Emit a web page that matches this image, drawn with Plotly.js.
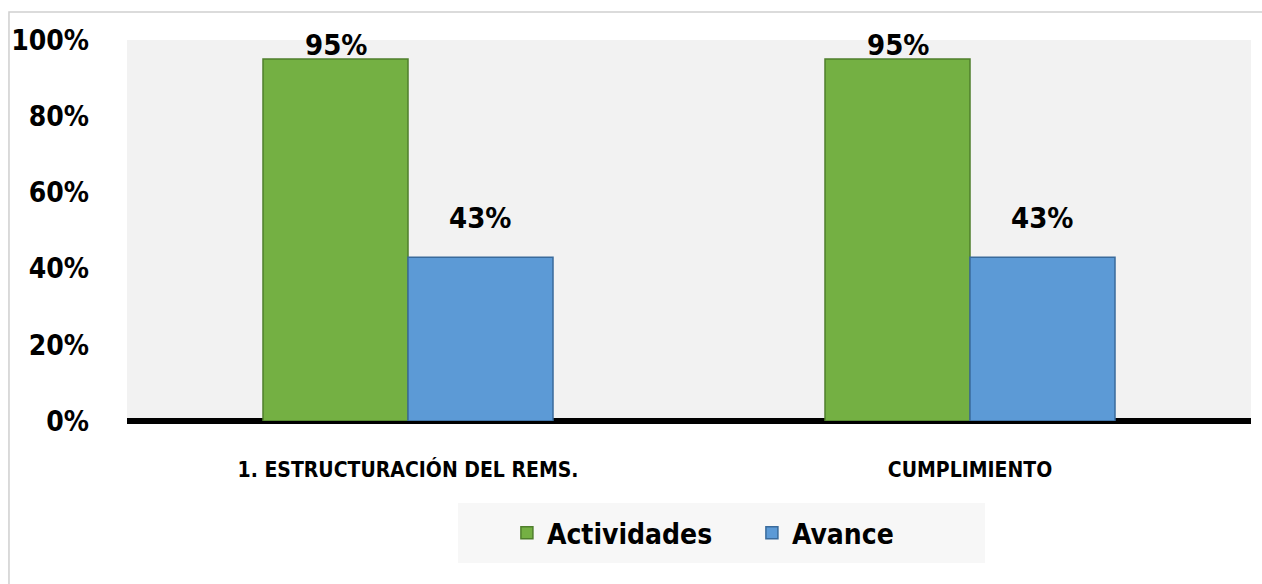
<!DOCTYPE html>
<html>
<head>
<meta charset="utf-8">
<script src="https://cdn.plot.ly/plotly-3.0.1.min.js"></script>
<style>
html,body{margin:0;padding:0;background:#fff;}
#chart{width:1262px;height:584px;}
</style>
</head>
<body>
<div id="chart"></div>
<script>
const categories = ["1. ESTRUCTURACIÓN DEL REMS.", "CUMPLIMIENTO"];
const seriesNames = ["Actividades", "Avance"];
const actividades = [0.95, 0.95];
const avance = [0.43, 0.43];
const yTickVals = [0, 0.2, 0.4, 0.6, 0.8, 1.0];
const yTickText = ["0%", "20%", "40%", "60%", "80%", "100%"];

const FONT = '"DejaVu Sans Condensed", "Liberation Sans", sans-serif';

const traces = [
  {
    type: 'bar', name: seriesNames[0], x: categories, y: actividades,
    marker: {color: '#74b043', line: {color: '#4f7f2c', width: 1.5}},
    hoverinfo: 'skip'
  },
  {
    type: 'bar', name: seriesNames[1], x: categories, y: avance,
    marker: {color: '#5c9ad6', line: {color: '#3a6b9c', width: 1.5}},
    hoverinfo: 'skip'
  }
];

// value labels
const annotations = [];
[actividades, avance].forEach((vals, si) => {
  vals.forEach((v, ci) => {
    annotations.push({
      x: categories[ci], y: Math.min(v + 0.103, 0.987), xref: 'x', yref: 'y',
      xshift: si === 0 ? -72 : 72,
      text: Math.round(v * 100) + '%', showarrow: false,
      yanchor: 'middle', xanchor: 'center',
      font: {family: FONT, size: 29, color: '#000', weight: 'bold'}
    });
  });
});

const layout = {
  width: 1262, height: 584,
  margin: {l: 127, r: 11, t: 40, b: 163},
  paper_bgcolor: '#ffffff',
  plot_bgcolor: '#f2f2f2',
  barmode: 'group',
  bargap: 0.484,
  bargroupgap: 0,
  showlegend: true,
  legend: {
    orientation: 'h', x: 0.338, xanchor: 'left', y: -0.294, yanchor: 'middle',
    bgcolor: 'rgba(0,0,0,0)', font: {family: FONT, size: 28, color: '#000', weight: 'bold'},
    entrywidth: 200, traceorder: 'normal'
  },
  xaxis: {
    type: 'category', showgrid: false, zeroline: false,
    showline: false, ticks: '', ticklabelstandoff: 34,
    tickfont: {family: FONT, size: 21, color: '#000', weight: 'bold'}
  },
  yaxis: {
    range: [0, 1], showgrid: false, zeroline: true, zerolinecolor: '#000', zerolinewidth: 6,
    showline: false, tickvals: yTickVals, ticktext: yTickText, ticks: '',
    ticklabelstandoff: 37,
    tickfont: {family: FONT, size: 28, color: '#000', weight: 'bold'}
  },
  annotations: annotations,
  shapes: [
    {type: 'rect', xref: 'paper', yref: 'paper', x0: -0.105, x1: 1.02, y0: -0.45, y1: 1.0735,
     line: {color: '#cfcfcf', width: 1.5}, fillcolor: 'rgba(0,0,0,0)', layer: 'below'},
    {type: 'rect', xref: 'paper', yref: 'paper', x0: 0.2945, x1: 0.7633, y0: -0.3727, y1: -0.2152,
     line: {width: 0}, fillcolor: '#f7f7f7', layer: 'below'}
  ]
};

Plotly.newPlot('chart', traces, layout, {displayModeBar: false, staticPlot: true});
</script>
</body>
</html>
